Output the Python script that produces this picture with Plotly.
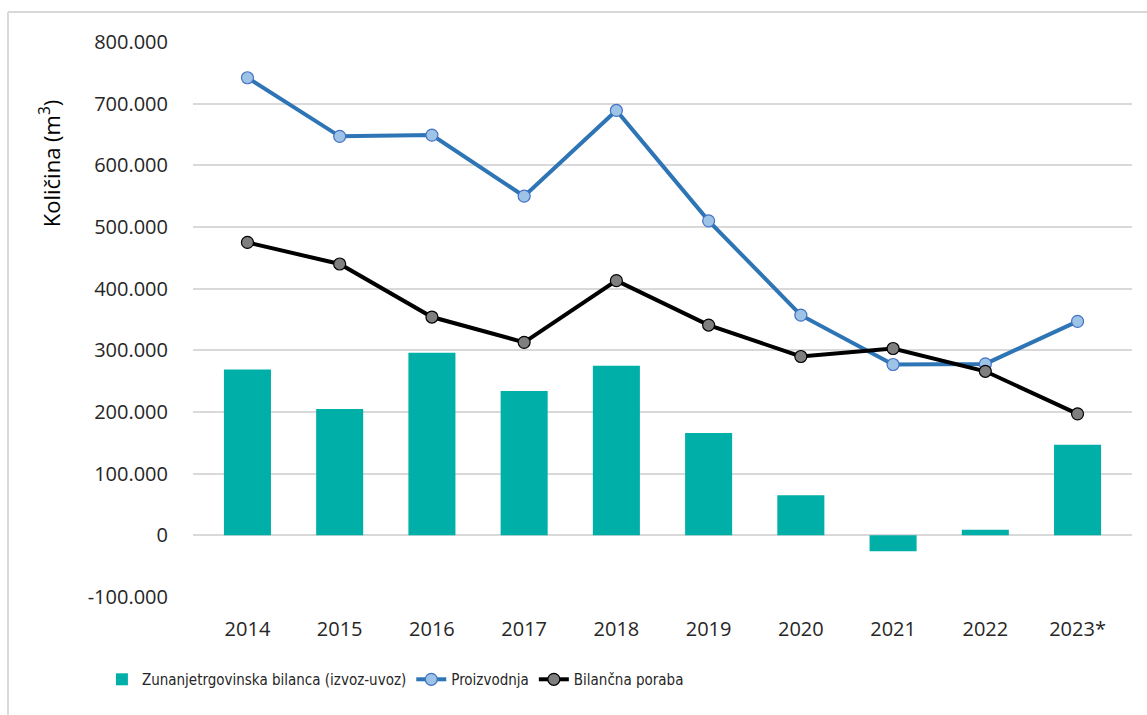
import plotly.graph_objects as go

years = ["2014", "2015", "2016", "2017", "2018", "2019", "2020", "2021", "2022", "2023*"]
bilanca = [269000, 205000, 296000, 234000, 275000, 166000, 65000, -26000, 9000, 147000]
proizvodnja = [742000, 647000, 649000, 550000, 689000, 510000, 357000, 277000, 278000, 347000]
poraba = [475000, 440000, 354000, 313000, 413000, 341000, 290000, 303000, 266000, 197000]
ytickvals = [-100000, 0, 100000, 200000, 300000, 400000, 500000, 600000, 700000, 800000]
yticktext = ["-100.000", "0", "100.000", "200.000", "300.000", "400.000", "500.000", "600.000", "700.000", "800.000"]

fig = go.Figure()
fig.add_trace(go.Bar(x=years, y=bilanca, name="Zunanjetrgovinska bilanca (izvoz-uvoz)",
                     marker=dict(color="#00AFA8", line=dict(width=0))))
fig.add_trace(go.Scatter(x=years, y=proizvodnja, name="Proizvodnja", mode="lines+markers",
                         line=dict(color="#2E75B6", width=4),
                         marker=dict(size=12, color="#9DC3E6", line=dict(color="#4472C4", width=1.2))))
fig.add_trace(go.Scatter(x=years, y=poraba, name="Bilančna poraba", mode="lines+markers",
                         line=dict(color="#000000", width=4),
                         marker=dict(size=12, color="#7F7F7F", line=dict(color="#000000", width=1.2))))

fig.update_layout(
    width=1147, height=715,
    margin=dict(l=193, r=15, t=42, b=118, autoexpand=False),
    paper_bgcolor="white", plot_bgcolor="white",
    font=dict(family="Open Sans", size=20, color="#262626"),
    bargap=0.49,
    showlegend=True,
    legend=dict(orientation="h", x=-0.097, y=-0.119, xanchor="left", yanchor="top",
                font=dict(family="DejaVu Sans Condensed, Roboto", size=15, color="#262626"),
                itemwidth=30, traceorder="normal"),
    xaxis=dict(showgrid=False, showline=False, zeroline=False, ticks="",
               ticklabelstandoff=18, tickfont=dict(size=20)),
    yaxis=dict(range=[-100000, 800000], tickvals=ytickvals, ticktext=yticktext,
               showgrid=True, gridcolor="#D9D9D9", gridwidth=1.5,
               zeroline=False, showline=False, ticks="", ticklabelstandoff=24,
               tickfont=dict(size=20)),
    annotations=[dict(text="Količina (m<sup>3</sup>)", textangle=-90, xref="paper", yref="paper",
                      x=-0.152, y=0.782, xanchor="center", yanchor="middle", showarrow=False,
                      font=dict(family="Open Sans", size=22, color="#000000"))],
    shapes=[
        dict(type="line", xref="paper", yref="paper", x0=-0.197, x1=1.02, y0=1.054, y1=1.054,
             line=dict(color="#D9D9D9", width=2)),
        dict(type="line", xref="paper", yref="paper", x0=-0.197, x1=-0.197, y0=1.054, y1=-0.22,
             line=dict(color="#D9D9D9", width=2)),
    ],
)

fig.write_html("out.html", config={"displayModeBar": False},
               post_script="document.body.style.margin='0';document.body.style.overflow='hidden';")
